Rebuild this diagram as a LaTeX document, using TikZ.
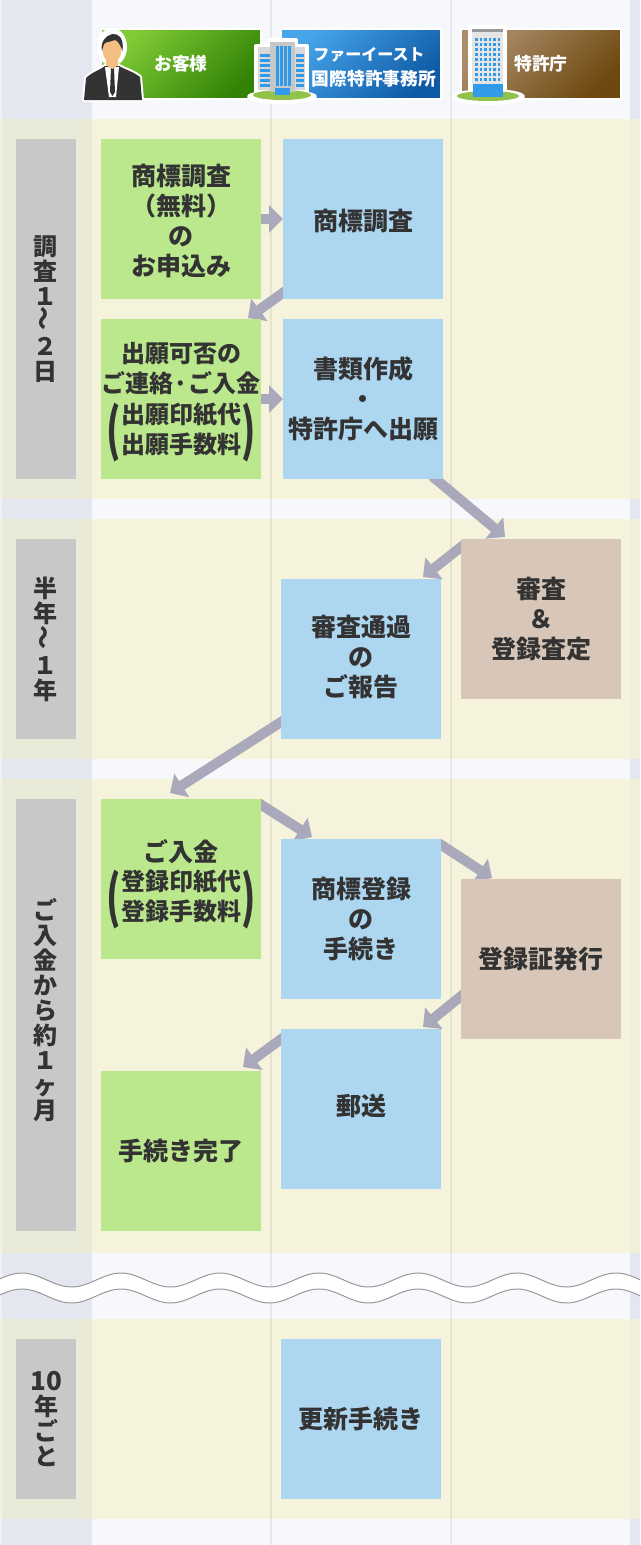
\documentclass[tikz,border=0pt]{standalone}
\usepackage{fontspec}
\usepackage{graphicx}
\setmainfont{Noto Sans CJK JP}
\usetikzlibrary{arrows.meta, positioning, calc, backgrounds, shadows}

\definecolor{bandcream}{HTML}{F5F3DC}
\definecolor{bandside}{HTML}{E9EAD8}
\definecolor{gapfill}{HTML}{F7F8FB}
\definecolor{gapside}{HTML}{E4E7F0}
\definecolor{clientfill}{HTML}{BBE88D}
\definecolor{officefill}{HTML}{ADD6F0}
\definecolor{patentfill}{HTML}{D8C7B8}
\definecolor{barfill}{HTML}{C8C8C8}
\definecolor{flowgray}{HTML}{A9A9BB}
\definecolor{inktext}{HTML}{333333}
\definecolor{lawngreen}{HTML}{93C24A}
\definecolor{glassblue}{HTML}{2F9BEA}
\definecolor{skinfill}{HTML}{F5BE82}
\definecolor{suitfill}{HTML}{333333}

\newcommand{\inparen}[1]{\fontsize{24}{30}\selectfont$\vcenter{\hbox{\scalebox{1.5}[2.35]{(}}}\vcenter{\hbox{\begin{tabular}{@{}c@{}}#1\end{tabular}}}\vcenter{\hbox{\scalebox{1.5}[2.35]{)}}}$}
\newcommand{\wavy}{\rotatebox{90}{～}}
\newcommand{\pad}[1]{\rule{0pt}{#1}}
\newcommand{\lift}[1]{\rule[-#1]{0pt}{#1}}

\begin{document}
\begin{tikzpicture}[
    x=1pt, y=-1pt,
    block/.style={rectangle, minimum width=160pt, minimum height=160pt, outer sep=0pt, inner sep=0pt, align=center, text=inktext, font=\fontsize{25}{30}\selectfont\bfseries},
    client/.style={block, fill=clientfill},
    office/.style={block, fill=officefill},
    patent/.style={block, fill=patentfill},
    period/.style={rectangle, fill=barfill, minimum width=60pt, outer sep=0pt, inner sep=0pt, align=center, text=inktext, font=\fontsize{24}{25}\selectfont\bfseries},
    header/.style={rectangle, minimum width=160pt, minimum height=70pt, outer sep=0pt, inner sep=0pt, draw=white, line width=1.5pt, align=center, text=white, font=\fontsize{17.8}{25}\selectfont\bfseries, drop shadow={shadow xshift=1pt, shadow yshift=-1pt, fill=black, opacity=.2}},
    flow/.style={draw=flowgray, line width=10pt, -{Triangle[length=14pt, width=27pt]}},
    wave/.style={draw=black!40, line width=1pt},
    halo/.style={draw=white, line width=4pt, line join=round, fill=white}
]
    \useasboundingbox (0,0) rectangle (640,1545);

    % Header boxes
    \node [header, top color={rgb,255:red,130;green,205;blue,55}, bottom color={rgb,255:red,50;green,130;blue,5}, shading angle=45] (client_head) at (181,64) {お客様};
    \node [header, top color={rgb,255:red,70;green,165;blue,235}, bottom color={rgb,255:red,15;green,90;blue,165}, shading angle=45, right=20pt of client_head] (office_head) {\pad{20pt}\hspace*{16pt}{\fontsize{16}{25}\selectfont ファーイースト}\\\hspace*{26pt}国際特許事務所};
    \node [header, top color={rgb,255:red,172;green,142;blue,108}, bottom color={rgb,255:red,110;green,72;blue,15}, shading angle=45, right=20pt of office_head] (patent_head) {特許庁};

    % Period bars
    \node [period, minimum height=340pt] (period_a) at (46,309) {調\\査\\１\\\wavy\\２\\日};
    \node [period, minimum height=200pt] (period_b) at (46,639) {半\\年\\\wavy\\１\\年};
    \node [period, minimum height=432pt] (period_c) at (46,1015) {ご\\入\\金\\か\\ら\\約\\１\\ヶ\\月\lift{13pt}};
    \node [period, minimum height=160pt] (period_d) at (46,1419) {{\fontsize{26}{25}\selectfont 10}\\年\\ご\\と};

    % Stage 1
    \node [client] (apply) at (181,219) {\pad{26pt}商標調査\\（無料）\\の\\お申込み};
    \node [office, right=22pt of apply] (survey) {\pad{26pt}商標調査};
    \node [client, below=20pt of apply, font=\fontsize{24}{30}\selectfont\bfseries] (confirm) {\pad{27pt}出願可否の\\ご連絡·ご入金\\[6pt]\inparen{出願印紙代\\出願手数料}};
    \node [office, below=20pt of survey] (draft) {書類作成\\・\\特許庁へ出願};

    % Stage 2
    \node [patent] (exam) at (541,619) {審査\\＆\\登録査定};
    \node [office] (notice) at (361,659) {審査通過\\の\\ご報告\lift{7pt}};

    % Stage 3
    \node [client] (payment) at (181,879) {\pad{33pt}ご入金\\[4pt]\inparen{登録印紙代\\登録手数料}};
    \node [office] (register) at (361,919) {商標登録\\の\\手続き};
    \node [patent] (certificate) at (541,959) {登録証発行};
    \node [office, below=30pt of register] (mailing) {郵送\lift{9pt}};
    \node [client] (finished) at (181,1151) {手続き完了};

    % Stage 4
    \node [office] (renewal) at (361,1419) {更新手続き};

    % Client figure
    \begin{scope}
        \path [halo] (112,47) ellipse (13pt and 17pt);
        \path [halo] (84,100) -- (86,78) .. controls (92,72) and (100,70) .. (105,66) -- (119,66) .. controls (126,70) and (134,72) .. (140,77) -- (142,100) -- cycle;
        \fill [suitfill] (84,100) -- (86,78) .. controls (92,72) and (100,70) .. (105,66) -- (119,66) .. controls (126,70) and (134,72) .. (140,77) -- (142,100) -- cycle;
        \fill [white] (105,67) -- (119,67) -- (116,97) -- (109,97) -- cycle;
        \fill [suitfill] (111,68) -- (114,68) -- (115,92) -- (112.5,96) -- (110,92) -- cycle;
        \fill [skinfill] (106,55) -- (118,55) -- (118,65) -- (112.5,69) -- (106,65) -- cycle;
        \fill [skinfill] (112,49) ellipse (9.5pt and 14pt);
        \fill [suitfill] (102,51) .. controls (98,33) and (126,24) .. (122.5,51) .. controls (120,44) and (118,41) .. (115,40) .. controls (110,42) and (105,42) .. (104,44) -- cycle;
    \end{scope}

    % Office building
    \begin{scope}
        \path [halo] (282,97) ellipse (33pt and 5pt);
        \path [halo] (256,92) -- (256,46) -- (269,46) -- (269,40) -- (296,40) -- (296,46) -- (307,46) -- (307,92) -- cycle;
        \fill [lawngreen] (282,95) ellipse (29pt and 5pt);
        \fill [black!15] (258,47) rectangle (272,90);
        \fill [black!15] (294,47) rectangle (305,90);
        \fill [black!22] (270,42) rectangle (295,92);
        \foreach \wx in {276,280,284,288}
            \fill [glassblue] (\wx,46) rectangle ++(2.5,40);
        \foreach \wy in {54,59,...,84} {
            \fill [glassblue] (260,\wy) rectangle ++(10,3);
            \fill [glassblue] (296,\wy) rectangle ++(8,3);
        }
        \fill [glassblue] (275,88) rectangle (290,95);
    \end{scope}

    % Patent office tower
    \begin{scope}
        \path [halo] (489,97) ellipse (34pt and 6pt);
        \path [halo] (470,90) -- (470,27) -- (505,27) -- (505,90) -- cycle;
        \fill [lawngreen] (488,96) ellipse (31pt and 5pt);
        \fill [black!10] (472,31) rectangle (503,84);
        \fill [black!40] (472,29) rectangle (503,32);
        \foreach \wx in {475,479.5,...,500}
            \foreach \wy in {38,43,...,78}
                \fill [glassblue] (\wx,\wy) rectangle ++(2.5,2.5);
        \fill [glassblue] (473,84) rectangle (503,97);
    \end{scope}

    \begin{scope}[on background layer]
        % Columns and bands
        \fill [gapfill] (0,0) rectangle (640,1545);
        \fill [gapside] (0,0) rectangle (92,1545);
        \fill [gapside] (630,0) rectangle (640,1545);
        \foreach \bandtop/\bandbot in {119/499, 519/759, 779/1253, 1319/1519} {
            \fill [bandcream] (0,\bandtop) rectangle (640,\bandbot);
            \fill [bandside] (0,\bandtop) rectangle (92,\bandbot);
            \fill [bandside!40!bandcream] (630,\bandtop) rectangle (640,\bandbot);
        }
        \fill [white, opacity=.4] (0,0) rectangle (2,1545);
        \foreach \colx in {271,451}
            \draw [black, opacity=.06, line width=1.5pt] (\colx,0) -- (\colx,1545);

        % Connections
        \path [flow] (apply.east) -- (survey.west);
        \path [flow] ($(survey.south west)+(3,-8.4)$) -- ($(confirm.north east)+(-13,-1)$);
        \path [flow] (confirm.east) -- (draft.west);
        \path [flow] ($(draft.south east)+(-11,-3)$) -- ($(exam.north west)+(44,-2)$);
        \path [flow] ($(exam.north west)+(2.9,5.7)$) -- ($(notice.north east)+(-18,-2)$);
        \path [flow] ($(notice.south west)+(4,-19.5)$) -- ($(payment.north west)+(69,-6)$);
        \path [flow] ($(payment.north east)+(-2.7,4)$) -- ($(register.north west)+(31,-2)$);
        \path [flow] ($(register.north east)+(-2.7,4)$) -- ($(certificate.north west)+(31,-1)$);
        \path [flow] ($(certificate.west)+(3,34.7)$) -- ($(mailing.north east)+(-18,-2)$);
        \path [flow] ($(mailing.north west)+(3,8)$) -- ($(finished.north east)+(-18,-4)$);
    \end{scope}

    % Break in the time line
    \fill [white] plot [domain=0:640, samples=130] (\x,{1280-7*cos((\x-22)/99*360)}) -- plot [domain=640:0, samples=130] (\x,{1296-7*cos((\x-22)/99*360)}) -- cycle;
    \draw [wave] plot [domain=0:640, samples=130] (\x,{1280-7*cos((\x-22)/99*360)});
    \draw [wave] plot [domain=0:640, samples=130] (\x,{1296-7*cos((\x-22)/99*360)});
\end{tikzpicture}
\end{document}
